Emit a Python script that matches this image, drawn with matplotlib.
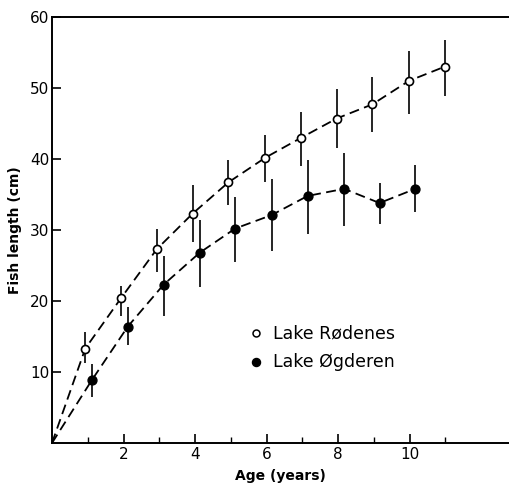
import matplotlib
matplotlib.use("Agg")
import matplotlib.pyplot as plt
from matplotlib.ticker import FixedLocator

# Data (age in years, fish length in cm)
rod_age = [0.93, 1.93, 2.93, 3.93, 4.93, 5.97, 6.97, 7.96, 8.96, 9.98, 10.98]
rod_len = [13.3, 20.4, 27.3, 32.3, 36.7, 40.2, 43.0, 45.7, 47.7, 51.0, 53.0]
rod_low = [11.3, 17.9, 24.1, 28.3, 33.5, 36.7, 39.0, 41.6, 43.8, 46.4, 48.9]
rod_high = [15.6, 22.1, 30.1, 36.3, 39.9, 43.4, 46.6, 49.8, 51.6, 55.2, 56.7]

ogd_age = [1.12, 2.12, 3.12, 4.13, 5.12, 6.14, 7.15, 8.17, 9.16, 10.16]
ogd_len = [8.9, 16.4, 22.3, 26.8, 30.2, 32.1, 34.8, 35.8, 33.8, 35.8]
ogd_low = [6.5, 13.8, 17.9, 22.0, 25.5, 27.1, 29.4, 30.5, 30.9, 32.6]
ogd_high = [11.1, 19.2, 26.3, 31.4, 34.6, 37.2, 39.9, 40.9, 36.6, 39.2]

x_ticks = [2, 4, 6, 8, 10]
x_minor = [1, 3, 5, 7, 9, 11]
y_ticks = [10, 20, 30, 40, 50, 60]
legend_labels = ["Lake Rødenes", "Lake Øgderen"]

fig = plt.figure(figsize=(5.09, 4.84), dpi=100)
ax = fig.add_axes([52/509, 41/484, 1 - 52/509, 426/484])
ax.set_xlim(0, 12.78)
ax.set_ylim(0, 60)

lw = 1.3
ax.plot([0] + rod_age, [0] + rod_len, color="black", lw=lw, dashes=(5.5, 3), zorder=2)
ax.plot([0] + ogd_age, [0] + ogd_len, color="black", lw=lw, dashes=(5.5, 3), zorder=2)

ax.vlines(rod_age, rod_low, rod_high, color="black", lw=1.2, zorder=3)
ax.vlines(ogd_age, ogd_low, ogd_high, color="black", lw=1.2, zorder=3)

ax.plot(rod_age, rod_len, "o", ms=5.8, mfc="white", mec="black", mew=1.2, ls="none", zorder=4)
ax.plot(ogd_age, ogd_len, "o", ms=6.4, mfc="black", mec="black", mew=1.0, ls="none", zorder=4)

# legend drawn as markers + text
lx = (256 - 52) / 35.75
tx = (272.5 - 52) / 35.75
ly1 = (443 - 333.3) / 7.1
ly2 = (443 - 361.7) / 7.1
ax.plot([lx], [ly1], "o", ms=5.0, mfc="white", mec="black", mew=1.1, zorder=4)
ax.plot([lx], [ly2], "o", ms=5.8, mfc="black", mec="black", zorder=4)
ax.text(tx, ly1, legend_labels[0], fontsize=12.5, va="center", ha="left", family="DejaVu Sans")
ax.text(tx, ly2, legend_labels[1], fontsize=12.5, va="center", ha="left", family="DejaVu Sans")

for s in ["left", "bottom", "top"]:
    ax.spines[s].set_linewidth(1.4)
ax.spines["right"].set_visible(False)

ax.xaxis.set_major_locator(FixedLocator(x_ticks))
ax.xaxis.set_minor_locator(FixedLocator(x_minor))
ax.yaxis.set_major_locator(FixedLocator(y_ticks))
ax.tick_params(axis="both", which="major", direction="in", length=6.5, width=1.2, labelsize=11, pad=3)
ax.tick_params(axis="x", which="minor", direction="in", length=4, width=1.0)
ax.tick_params(axis="y", which="major", pad=2)
ax.tick_params(top=False, right=False)

ax.set_xlabel("Age (years)", fontsize=10, fontweight="bold", labelpad=5)
ax.set_ylabel("Fish length (cm)", fontsize=10, fontweight="bold", labelpad=6)

fig.savefig("out.png", dpi=100)
